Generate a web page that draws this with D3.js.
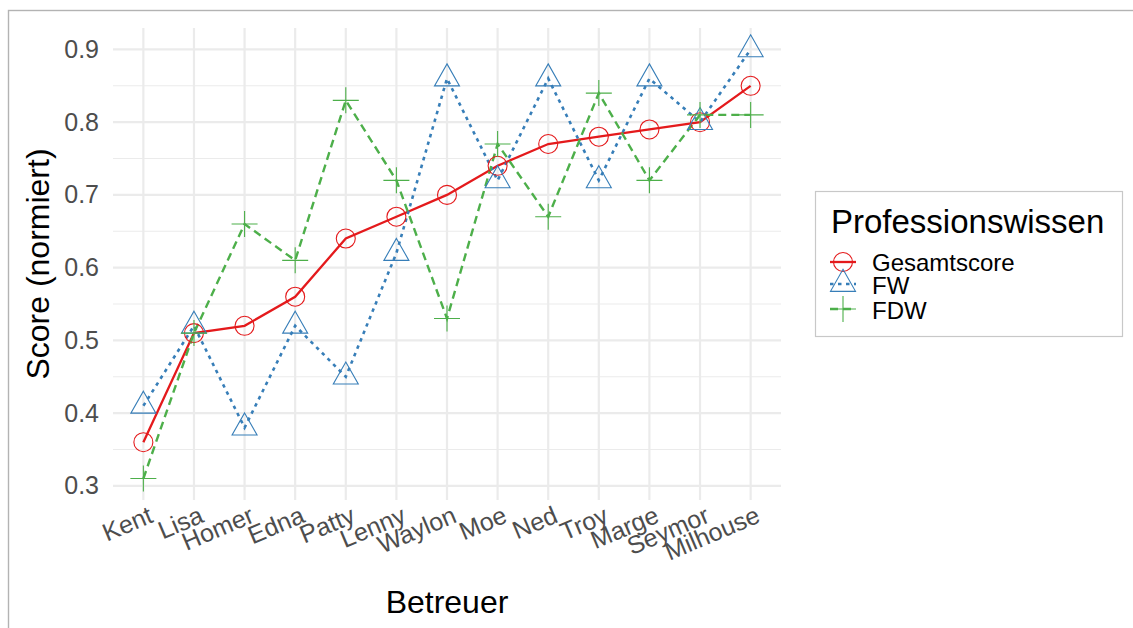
<!DOCTYPE html>
<html>
<head>
<meta charset="utf-8">
<script src="https://cdn.jsdelivr.net/npm/d3@7"></script>
<style>
  body { margin: 0; background: #fff; }
  text { font-family: "Liberation Sans", Arial, sans-serif; }
</style>
</head>
<body>
<div id="chart"></div>
<script>
// data
var betreuer = ["Kent", "Lisa", "Homer", "Edna", "Patty", "Lenny", "Waylon", "Moe", "Ned", "Troy", "Marge", "Seymor", "Milhouse"];
var gesamtscore = [0.36, 0.51, 0.52, 0.56, 0.64, 0.67, 0.70, 0.74, 0.77, 0.78, 0.79, 0.80, 0.85];
var fw = [0.41, 0.52, 0.38, 0.52, 0.45, 0.62, 0.86, 0.72, 0.86, 0.72, 0.86, 0.80, 0.90];
var fdw = [0.31, 0.51, 0.66, 0.61, 0.83, 0.72, 0.53, 0.77, 0.67, 0.84, 0.72, 0.81, 0.81];
var yTicks = [0.3, 0.4, 0.5, 0.6, 0.7, 0.8, 0.9];
var yMinor = [0.35, 0.45, 0.55, 0.65, 0.75, 0.85];
var seriesNames = ["Gesamtscore", "FW", "FDW"];

var W = 1133, H = 628;
var panel = { left: 113, right: 781, top: 28, bottom: 500 };

var svg = d3.select("#chart").append("svg")
    .attr("width", W)
    .attr("height", H);

// outer frame (only top and left visible in the reference)
svg.append("rect")
    .attr("x", 8.5).attr("y", 10.5)
    .attr("width", W + 20).attr("height", H + 20)
    .attr("fill", "none")
    .attr("stroke", "#b3b3b3")
    .attr("stroke-width", 1.4);

var x = d3.scalePoint()
    .domain(betreuer)
    .range([panel.left, panel.right])
    .padding(0.6);

var yMin = d3.min([gesamtscore, fw, fdw].flat()), yMax = d3.max([gesamtscore, fw, fdw].flat());
var pad = (yMax - yMin) * 0.05;
var y = d3.scaleLinear()
    .domain([yMin - pad, yMax + pad])
    .range([panel.bottom, panel.top]);

// grid
var grid = svg.append("g");
grid.selectAll(".minor").data(yMinor).join("line")
    .attr("x1", panel.left).attr("x2", panel.right)
    .attr("y1", d => y(d)).attr("y2", d => y(d))
    .attr("stroke", "#ebebeb").attr("stroke-width", 1.1);
grid.selectAll(".major").data(yTicks).join("line")
    .attr("x1", panel.left).attr("x2", panel.right)
    .attr("y1", d => y(d)).attr("y2", d => y(d))
    .attr("stroke", "#ebebeb").attr("stroke-width", 2.2);
grid.selectAll(".vert").data(betreuer).join("line")
    .attr("x1", d => x(d)).attr("x2", d => x(d))
    .attr("y1", panel.top).attr("y2", panel.bottom)
    .attr("stroke", "#ebebeb").attr("stroke-width", 2.2);

// y axis
var yAxis = svg.append("g")
    .attr("transform", "translate(" + (panel.left - 4) + ",0)")
    .call(d3.axisLeft(y).tickValues(yTicks).tickSize(0).tickPadding(10).tickFormat(d3.format(".1f")));
yAxis.select(".domain").remove();
yAxis.selectAll("text")
    .attr("fill", "#4d4d4d")
    .style("font-size", "25px")
    .style("font-family", "Liberation Sans, Arial, sans-serif");

// x axis labels, rotated
svg.append("g").selectAll("text").data(betreuer).join("text")
    .attr("transform", d => "translate(" + (x(d) + 4) + ",505) rotate(-23)")
    .attr("text-anchor", "end")
    .attr("dy", "0.72em")
    .attr("fill", "#4d4d4d")
    .style("font-size", "25px")
    .text(d => d);

// axis titles
svg.append("text")
    .attr("x", (panel.left + panel.right) / 2)
    .attr("y", 613)
    .attr("text-anchor", "middle")
    .style("font-size", "32px")
    .attr("fill", "#000")
    .text("Betreuer");

svg.append("text")
    .attr("transform", "translate(49," + ((panel.top + panel.bottom) / 2) + ") rotate(-90)")
    .attr("text-anchor", "middle")
    .style("font-size", "32px")
    .attr("fill", "#000")
    .text("Score (normiert)");

// series
var colors = ["#e41a1c", "#377eb8", "#4daf4a"];
var dashes = [null, "3.5,4.5", "8,5"];
var widths = [2.3, 2.6, 2.4];
var seriesData = [gesamtscore, fw, fdw];

var line = d3.line()
    .x((d, i) => x(betreuer[i]))
    .y(d => y(d));

seriesData.forEach(function (vals, s) {
    svg.append("path")
        .datum(vals)
        .attr("d", line)
        .attr("fill", "none")
        .attr("stroke", colors[s])
        .attr("stroke-width", widths[s])
        .attr("stroke-dasharray", dashes[s]);
});

function drawSymbol(g, s, cx, cy) {
    if (s === 0) {
        g.append("circle")
            .attr("cx", cx).attr("cy", cy).attr("r", 9.5)
            .attr("fill", "none").attr("stroke", colors[0]).attr("stroke-width", 1.1);
    } else if (s === 1) {
        var h = 22, w = 25;
        g.append("path")
            .attr("d", "M" + cx + "," + (cy - h * 2 / 3) +
                "L" + (cx + w / 2) + "," + (cy + h / 3) +
                "L" + (cx - w / 2) + "," + (cy + h / 3) + "Z")
            .attr("fill", "none").attr("stroke", colors[1]).attr("stroke-width", 1.1);
    } else {
        g.append("path")
            .attr("d", "M" + (cx - 13) + "," + cy + "H" + (cx + 13) +
                "M" + cx + "," + (cy - 13) + "V" + (cy + 13))
            .attr("fill", "none").attr("stroke", colors[2]).attr("stroke-width", 1.1);
    }
}

var pts = svg.append("g");
seriesData.forEach(function (vals, s) {
    vals.forEach(function (v, i) {
        drawSymbol(pts, s, x(betreuer[i]), y(v));
    });
});

// legend
var lg = svg.append("g");
lg.append("rect")
    .attr("x", 815.5).attr("y", 191.5)
    .attr("width", 307).attr("height", 145)
    .attr("fill", "#fff")
    .attr("stroke", "#c8c8c8")
    .attr("stroke-width", 1.2);
lg.append("text")
    .attr("x", 831).attr("y", 233)
    .style("font-size", "33px")
    .attr("fill", "#000")
    .text("Professionswissen");

var keyY = [262, 284, 309];
var labelY = [271, 294, 319];
seriesNames.forEach(function (name, s) {
    lg.append("line")
        .attr("x1", 830).attr("x2", 856)
        .attr("y1", keyY[s]).attr("y2", keyY[s])
        .attr("stroke", colors[s])
        .attr("stroke-width", widths[s])
        .attr("stroke-dasharray", dashes[s]);
    drawSymbol(lg, s, 843, keyY[s]);
    lg.append("text")
        .attr("x", 872).attr("y", labelY[s])
        .style("font-size", "24px")
        .attr("fill", "#000")
        .text(name);
});
</script>
</body>
</html>
